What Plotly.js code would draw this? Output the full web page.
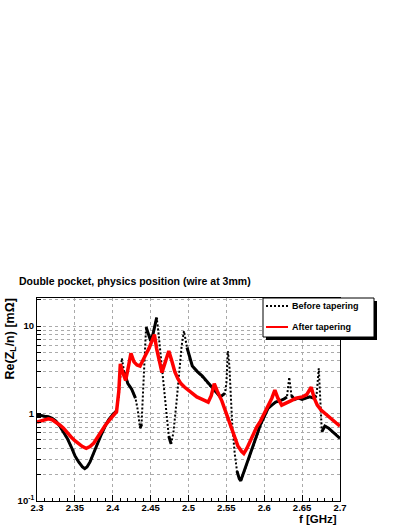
<!DOCTYPE html>
<html>
<head>
<meta charset="utf-8">
<script src="https://cdn.plot.ly/plotly-3.0.1.min.js"></script>
<style>
  html, body { margin: 0; padding: 0; background: #fff; }
  #graph { width: 407px; height: 527px; }
</style>
</head>
<body>
<div id="graph"></div>
<script>
// Before tapering (black)
const beforeF = [2.300, 2.305, 2.310, 2.315, 2.320, 2.325, 2.330, 2.335, 2.340, 2.345,
  2.350, 2.355, 2.360, 2.363, 2.366, 2.370, 2.375, 2.380, 2.385, 2.390,
  2.395, 2.400, 2.405, 2.408, 2.410, 2.412, 2.415, 2.420, 2.425, 2.430,
  2.433, 2.436, 2.438, 2.440, 2.442, 2.444, 2.447, 2.450, 2.453, 2.456,
  2.458, 2.460, 2.463, 2.466, 2.470, 2.474, 2.477, 2.480, 2.484, 2.488,
  2.491, 2.494, 2.498, 2.505, 2.512, 2.518, 2.525, 2.531, 2.537, 2.542,
  2.548, 2.550, 2.552, 2.554, 2.556, 2.558, 2.561, 2.564, 2.567, 2.569,
  2.572, 2.576, 2.580, 2.585, 2.590, 2.595, 2.600, 2.605, 2.610, 2.615,
  2.620, 2.625, 2.630, 2.633, 2.636, 2.640, 2.645, 2.650, 2.655, 2.660,
  2.665, 2.669, 2.672, 2.674, 2.676, 2.680, 2.685, 2.690, 2.695, 2.700];
const beforeZ = [0.95, 0.95, 0.93, 0.92, 0.88, 0.82, 0.72, 0.62, 0.52, 0.42,
  0.33, 0.28, 0.245, 0.235, 0.245, 0.28, 0.36, 0.46, 0.58, 0.72,
  0.86, 0.97, 1.08, 1.6, 2.8, 4.3, 3.0, 2.2, 1.9, 1.5,
  1.1, 0.68, 0.75, 2.0, 5.5, 9.8, 8.0, 6.8, 8.0, 10.5,
  12.5, 9.0, 5.0, 2.5, 1.1, 0.55, 0.45, 0.6, 1.3, 3.0,
  6.0, 8.8, 5.7, 3.5, 3.0, 2.7, 2.3, 2.0, 1.75, 1.55,
  1.7, 2.2, 5.2, 3.5, 1.5, 0.7, 0.35, 0.22, 0.18, 0.17,
  0.2, 0.25, 0.32, 0.42, 0.56, 0.75, 0.95, 1.15, 1.25, 1.35,
  1.4, 1.45, 1.55, 2.6, 1.6, 1.45, 1.5, 1.45, 1.5, 1.55,
  1.5, 1.6, 3.3, 1.4, 0.62, 0.72, 0.68, 0.62, 0.58, 0.52];

// After tapering (red)
const afterF = [2.300, 2.305, 2.310, 2.315, 2.320, 2.325, 2.330, 2.335, 2.340, 2.345,
  2.350, 2.355, 2.360, 2.365, 2.370, 2.375, 2.380, 2.385, 2.390, 2.395,
  2.400, 2.405, 2.408, 2.410, 2.413, 2.417, 2.420, 2.424, 2.428, 2.432,
  2.436, 2.440, 2.444, 2.448, 2.452, 2.455, 2.458, 2.462, 2.465, 2.469,
  2.474, 2.478, 2.482, 2.486, 2.490, 2.495, 2.500, 2.505, 2.511, 2.516,
  2.521, 2.526, 2.530, 2.534, 2.538, 2.544, 2.550, 2.555, 2.560, 2.565,
  2.570, 2.573, 2.577, 2.581, 2.586, 2.590, 2.595, 2.600, 2.605, 2.610,
  2.614, 2.618, 2.623, 2.628, 2.635, 2.642, 2.650, 2.656, 2.662, 2.666,
  2.670, 2.675, 2.680, 2.685, 2.690, 2.695, 2.700];
const afterZ = [0.8, 0.82, 0.86, 0.87, 0.85, 0.8, 0.74, 0.68, 0.6, 0.54,
  0.49, 0.45, 0.42, 0.4, 0.42, 0.46, 0.54, 0.63, 0.73, 0.83,
  0.92, 1.05, 1.8, 3.7, 3.0, 2.4, 3.2, 4.9, 3.9, 3.6,
  3.5, 4.2, 4.8, 5.6, 6.8, 8.0, 5.5, 3.6, 2.95, 3.8,
  5.2, 4.0, 3.0, 2.5, 2.2, 2.0, 1.85, 1.72, 1.55, 1.48,
  1.42, 1.35, 1.6, 2.2, 1.8, 1.4, 1.0, 0.75, 0.55, 0.43,
  0.37, 0.35, 0.4, 0.48, 0.6, 0.7, 0.82, 1.0, 1.2, 1.5,
  1.85, 1.5, 1.25, 1.3, 1.4, 1.5, 1.55, 1.65, 2.0, 1.5,
  1.25, 1.1, 1.0, 0.92, 0.85, 0.78, 0.72];

const seriesNames = ['Before tapering', 'After tapering'];
const xTicks = [2.3, 2.35, 2.4, 2.45, 2.5, 2.55, 2.6, 2.65, 2.7];
const yGrid = [0.1, 0.2, 0.3, 0.4, 0.5, 0.6, 0.7, 0.8, 0.9, 1, 2, 3, 4, 5, 6, 7, 8, 9, 10, 20];
const yLabels = {0.1: '10<sup>-1</sup>', 1: '1', 10: '10'};

// flat stretches of the black curve look solid (noise), steep ones dotted
function flatPart(xs, ys) {
  const sx = [], sy = [];
  for (let i = 0; i < xs.length - 1; i++) {
    const slope = Math.abs(Math.log10(ys[i + 1]) - Math.log10(ys[i])) / (xs[i + 1] - xs[i]);
    if (slope < 40) {
      sx.push(xs[i], xs[i + 1]); sy.push(ys[i], ys[i + 1]);
    } else {
      sx.push(null); sy.push(null);
    }
  }
  return {x: sx, y: sy};
}
const flat = flatPart(beforeF, beforeZ);

const W = 407, H = 527;
const margin = {l: 37, r: 67, t: 298, b: 26};
// pixel -> paper helpers for the ROOT-style legend box
const px = v => (v - margin.l) / (W - margin.l - margin.r);
const py = v => 1 - (v - margin.t) / (H - margin.t - margin.b);

const font = {family: 'Liberation Sans, Arial, sans-serif', color: '#000', weight: 'bold'};
const fnt = size => Object.assign({size: size}, font);

const blackDot = {color: '#000', width: 2, dash: '2px,2px'};
const redLine = {color: '#ff0000', width: 3.5};

const data = [
  {x: beforeF, y: beforeZ, name: seriesNames[0], mode: 'lines', type: 'scatter', line: blackDot},
  {x: flat.x, y: flat.y, mode: 'lines', type: 'scatter', connectgaps: false,
    line: {color: '#000', width: 3}},
  {x: afterF, y: afterZ, name: seriesNames[1], mode: 'lines', type: 'scatter', line: redLine}
];

const legendShapes = [
  {type: 'rect', xref: 'paper', yref: 'paper', x0: px(266), x1: px(377), y0: py(340), y1: py(301),
    fillcolor: '#000', line: {width: 0}},
  {type: 'rect', xref: 'paper', yref: 'paper', x0: px(263), x1: px(374), y0: py(337), y1: py(298),
    fillcolor: '#fff', line: {color: '#000', width: 1}},
  {type: 'line', xref: 'paper', yref: 'paper', x0: px(266), x1: px(288), y0: py(306), y1: py(306),
    line: blackDot},
  {type: 'line', xref: 'paper', yref: 'paper', x0: px(266), x1: px(288), y0: py(327), y1: py(327),
    line: {color: redLine.color, width: 2}}
];

const layout = {
  width: W, height: H, margin: margin,
  paper_bgcolor: '#fff', plot_bgcolor: '#fff',
  font: fnt(9), showlegend: false,
  xaxis: {
    range: [2.3, 2.7], tickvals: xTicks, ticktext: xTicks.map(String),
    ticks: 'inside', ticklen: 6, tickcolor: '#000', ticklabelstandoff: -2,
    minor: {dtick: 0.01, ticks: 'inside', ticklen: 3, tickcolor: '#000', showgrid: false},
    showgrid: true, gridcolor: '#aaa', griddash: 'dot', gridwidth: 1,
    showline: true, linecolor: '#000', linewidth: 1, mirror: true,
    zeroline: false, tickfont: fnt(9.5)
  },
  yaxis: {
    type: 'log', range: [-1, 1.322],
    tickvals: yGrid, ticktext: yGrid.map(v => yLabels[v] || ''),
    ticks: 'inside', ticklen: 4, tickcolor: '#000',
    showgrid: true, gridcolor: '#aaa', griddash: 'dot', gridwidth: 1,
    showline: true, linecolor: '#000', linewidth: 1, mirror: true,
    zeroline: false, tickfont: fnt(9.5)
  },
  shapes: legendShapes,
  annotations: [
    {text: 'Double pocket, physics position (wire at 3mm)', xref: 'paper', yref: 'paper',
      x: px(17), y: py(281), xanchor: 'left', yanchor: 'middle', showarrow: false, font: fnt(10.5)},
    {text: 'Re(Z<sub>L</sub>/n) [mΩ]', xref: 'paper', yref: 'paper', textangle: -90,
      x: px(10), y: py(297), xanchor: 'center', yanchor: 'top', showarrow: false, font: fnt(12.5)},
    {text: 'f [GHz]', xref: 'paper', yref: 'paper',
      x: px(339), y: py(519), xanchor: 'right', yanchor: 'middle', showarrow: false, font: fnt(11.5)},
    {text: seriesNames[0], xref: 'paper', yref: 'paper',
      x: px(290), y: py(306), xanchor: 'left', yanchor: 'middle', showarrow: false, font: fnt(9)},
    {text: seriesNames[1], xref: 'paper', yref: 'paper',
      x: px(290), y: py(327), xanchor: 'left', yanchor: 'middle', showarrow: false, font: fnt(9)}
  ]
};

Plotly.newPlot('graph', data, layout, {displayModeBar: false, staticPlot: true});
</script>
</body>
</html>
